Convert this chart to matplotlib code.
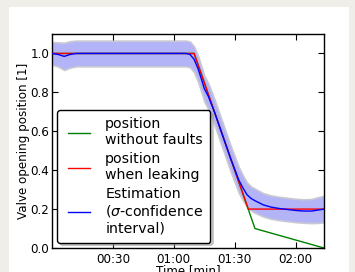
import matplotlib
matplotlib.use("Agg")
import matplotlib.pyplot as plt
import numpy as np
from matplotlib.patches import Rectangle
from matplotlib.legend_handler import HandlerLine2D
from matplotlib.lines import Line2D

# ---- data (time in seconds) ----
t_nofault = [0, 70, 100, 134]
pos_nofault = [1.0, 1.0, 0.1, 0.0]

t_leak = [0, 70, 96.7, 134]
pos_leak = [1.0, 1.0, 0.2, 0.2]

t_est = [0, 3, 6, 9, 12, 20, 30, 40, 50, 60, 66, 68, 70, 72, 74, 75, 77, 80,
         84, 88, 92, 94, 96, 98, 100, 104, 108, 112, 116, 120, 124, 128, 131, 134]
pos_est = [1.0, 0.995, 0.985, 0.995, 1.0, 1.0, 1.0, 1.0, 1.0, 1.0, 1.0, 0.995,
           0.97, 0.92, 0.855, 0.82, 0.78, 0.70, 0.58, 0.46, 0.35, 0.31, 0.275,
           0.255, 0.243, 0.222, 0.21, 0.203, 0.198, 0.193, 0.19, 0.19, 0.195, 0.2]
sigma_est = [0.058, 0.062, 0.07, 0.068, 0.066, 0.066, 0.066, 0.066, 0.066, 0.066,
             0.066, 0.066, 0.066, 0.066, 0.066, 0.066, 0.066, 0.066, 0.066, 0.066,
             0.066, 0.064, 0.062, 0.062, 0.062, 0.06, 0.06, 0.06, 0.06, 0.06,
             0.06, 0.062, 0.066, 0.068]

xticks = [30, 60, 90, 120]
xticklabels = ["00:30", "01:00", "01:30", "02:00"]
yticks = [0.0, 0.2, 0.4, 0.6, 0.8, 1.0]

W, H = 355, 272
fig = plt.figure(figsize=(W / 100, H / 100), dpi=100, facecolor="#f0eee9")
bg = Rectangle((9 / W, 0), (349 - 9) / W, (H - 7) / H,
               transform=fig.transFigure, facecolor="white",
               edgecolor="none", zorder=-10)
fig.add_artist(bg)

ax = fig.add_axes([52 / W, (H - 248) / H, (324 - 52) / W, (248 - 34) / H])
ax.set_zorder(5)
ax.set_facecolor("white")

te = np.array(t_est)
pe = np.array(pos_est)
se = np.array(sigma_est)
ax.fill_between(te, pe - se, pe + se, facecolor="#b3b3f7", edgecolor="#c9c9d2",
                linewidth=1.2, zorder=1)
ax.plot(t_nofault, pos_nofault, color="#008000", lw=1.0, zorder=2,
        label="position\nwithout faults")
ax.plot(t_leak, pos_leak, color="#ff0000", lw=1.0, zorder=3,
        label="position\nwhen leaking")
ax.plot(t_est, pos_est, color="#0000ff", lw=1.0, zorder=4,
        label="Estimation\n($\\sigma$-confidence\ninterval)")

ax.set_xlim(0, 134)
ax.set_ylim(0, 1.1)
ax.set_xticks(xticks)
ax.set_xticklabels(xticklabels)
ax.set_yticks(yticks)
ax.set_yticklabels([f"{v:.1f}" for v in yticks])
ax.tick_params(direction="in", top=True, right=True, labelsize=8.6,
               length=4, width=0.8)
ax.tick_params(axis="y", pad=2)
for s in ax.spines.values():
    s.set_linewidth(1.0)
    s.set_color("black")

ax.set_xlabel("Time [min]", fontsize=8.6, labelpad=-1)
ax.set_ylabel("Valve opening position [1]", fontsize=8.6, labelpad=0)

leg = ax.legend(loc="lower left", fontsize=10.2, handlelength=1.8,
                handletextpad=1.1, labelspacing=0.32, borderpad=0.5,
                borderaxespad=0, fancybox=True,
                shadow={"color": "0.6", "alpha": 0.5}, framealpha=1,
                bbox_to_anchor=(5 / 272, 5.5 / 214),
                handler_map={Line2D: HandlerLine2D(xpad=0.3)})
leg.get_frame().set_edgecolor("black")
leg.get_frame().set_linewidth(1.0)

fig.savefig("out.png", dpi=100, facecolor=fig.get_facecolor())
